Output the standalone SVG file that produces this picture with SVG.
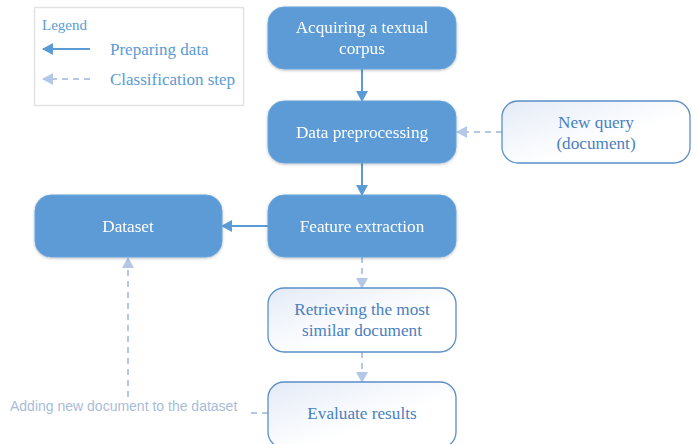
<svg xmlns="http://www.w3.org/2000/svg" width="698" height="444" viewBox="0 0 698 444">
<defs>
<linearGradient id="lg" x1="0" y1="0" x2="1" y2="1">
<stop offset="0" stop-color="#e4ebf7"/>
<stop offset="0.6" stop-color="#ffffff"/>
</linearGradient>
<marker id="ms" markerWidth="12" markerHeight="12" refX="10" refY="6" orient="auto" markerUnits="userSpaceOnUse">
<path d="M0,0 L11,6 L0,12 Z" fill="#5b9bd5"/>
</marker>
<marker id="md" markerWidth="12" markerHeight="12" refX="10" refY="6" orient="auto" markerUnits="userSpaceOnUse">
<path d="M0,0 L11,6 L0,12 Z" fill="#b4c7e7"/>
</marker>
<filter id="sh" x="-10%" y="-20%" width="120%" height="140%">
<feGaussianBlur in="SourceAlpha" stdDeviation="1.5"/>
<feOffset dx="0" dy="1"/>
<feComponentTransfer><feFuncA type="linear" slope="0.25"/></feComponentTransfer>
<feMerge><feMergeNode/><feMergeNode in="SourceGraphic"/></feMerge>
</filter>
</defs>
<style>
.dark{fill:#5b9bd5;stroke:#6aa5dc;stroke-width:1;}
.light{fill:url(#lg);stroke:#5b8fc9;stroke-width:1.3;}
.wt{font-family:"Liberation Serif","Times New Roman",serif;font-size:17.2px;fill:#ffffff;text-anchor:middle;}
.bt{font-family:"Liberation Serif","Times New Roman",serif;font-size:17.2px;fill:#4a7fbf;text-anchor:middle;}
.lt{font-family:"Liberation Serif","Times New Roman",serif;font-size:17px;fill:#5b9bd5;}
.solid{stroke:#5b9bd5;stroke-width:2;fill:none;marker-end:url(#ms);}
.dash{stroke:#b4c7e7;stroke-width:2;fill:none;stroke-dasharray:6,5;}
.dasharr{marker-end:url(#md);}
</style>
<rect width="698" height="444" fill="#ffffff"/>
<g id="legend">
<rect x="34.5" y="7.5" width="209" height="98" fill="#ffffff" stroke="#e2e2e2" stroke-width="1.5"/>
<text x="42" y="30" font-family="Liberation Serif, serif" font-size="15" fill="#5b9bd5">Legend</text>
<line x1="90" y1="49" x2="43" y2="49" class="solid"/>
<text x="110" y="55" class="lt">Preparing data</text>
<line x1="90" y1="79" x2="43" y2="79" class="dash dasharr"/>
<text x="110" y="85" class="lt">Classification step</text>
</g>
<g id="connectors">
<line x1="362" y1="69" x2="362" y2="101" class="solid"/>
<line x1="362" y1="163" x2="362" y2="195" class="solid"/>
<line x1="268" y1="226" x2="222" y2="226" class="solid"/>
<line x1="502" y1="132" x2="457" y2="132" class="dash dasharr"/>
<line x1="362" y1="257" x2="362" y2="288" class="dash dasharr"/>
<line x1="362" y1="352" x2="362" y2="382" class="dash dasharr"/>
<line x1="268" y1="413" x2="246" y2="413" class="dash"/>
<line x1="128" y1="397" x2="128" y2="258" class="dash dasharr"/>
<text x="10" y="411" font-family="Liberation Sans, Arial, sans-serif" font-size="14" fill="#a9bcd8">Adding new document to the dataset</text>
</g>
<g id="n-acquire" filter="url(#sh)">
<rect x="268" y="7" width="188" height="62" rx="16" class="dark"/>
<text x="362" y="33" class="wt">Acquiring a textual</text>
<text x="362" y="54" class="wt">corpus</text>
</g>
<g id="n-preproc" filter="url(#sh)">
<rect x="268" y="101" width="188" height="62" rx="16" class="dark"/>
<text x="362" y="138" class="wt">Data preprocessing</text>
</g>
<g id="n-query">
<rect x="502" y="101" width="188" height="62" rx="16" class="light"/>
<text x="596" y="128" class="bt">New query</text>
<text x="596" y="149" class="bt">(document)</text>
</g>
<g id="n-feature" filter="url(#sh)">
<rect x="268" y="195" width="188" height="62" rx="16" class="dark"/>
<text x="362" y="232" class="wt">Feature extraction</text>
</g>
<g id="n-dataset" filter="url(#sh)">
<rect x="35" y="195" width="187" height="62" rx="16" class="dark"/>
<text x="128" y="232" class="wt">Dataset</text>
</g>
<g id="n-retrieve">
<rect x="268" y="288" width="188" height="64" rx="16" class="light"/>
<text x="362" y="315" class="bt">Retrieving the most</text>
<text x="362" y="336" class="bt">similar document</text>
</g>
<g id="n-evaluate">
<rect x="268" y="382" width="188" height="66" rx="16" class="light"/>
<text x="362" y="419" class="bt">Evaluate results</text>
</g>
</svg>
